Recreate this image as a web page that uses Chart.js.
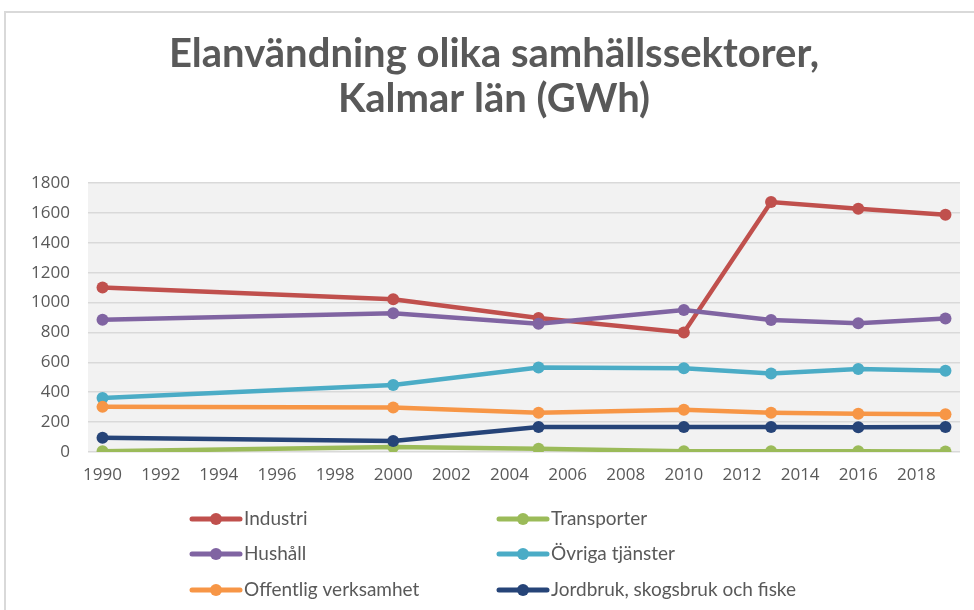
<!DOCTYPE html>
<html>
<head>
<meta charset="utf-8">
<script src="https://cdn.jsdelivr.net/npm/chart.js@4/dist/chart.umd.min.js"></script>
<style>
  html, body { margin: 0; padding: 0; background: #ffffff; }
  #wrap { position: relative; width: 974px; height: 610px; overflow: hidden; }
  canvas { position: absolute; left: 0; top: 0; }
</style>
</head>
<body>
<div id="wrap"><canvas id="c" width="974" height="610"></canvas></div>
<script>
// ---- Data ----
const years = [1990, 2000, 2005, 2010, 2013, 2016, 2019];
const industri = [1100, 1022, 897, 800, 1673, 1628, 1588];
const transporter = [5, 33, 22, 5, 5, 5, 4];
const hushall = [885, 928, 858, 950, 883, 862, 893];
const ovrigaTjanster = [362, 448, 565, 560, 525, 555, 543];
const offentlig = [302, 298, 263, 282, 263, 256, 252];
const jordbruk = [95, 73, 167, 168, 168, 165, 168];
const seriesNames = ["Industri", "Transporter", "Hushåll", "Övriga tjänster", "Offentlig verksamhet", "Jordbruk, skogsbruk och fiske"];
const seriesColors = ["#C0504D", "#9BBB59", "#8064A2", "#4BACC6", "#F79646", "#264478"];
const xTickYears = [1990, 1992, 1994, 1996, 1998, 2000, 2002, 2004, 2006, 2008, 2010, 2012, 2014, 2016, 2018];
const yTickValues = [0, 200, 400, 600, 800, 1000, 1200, 1400, 1600, 1800];
const titleLines = ["Elanvändning olika samhällssektorer,", "Kalmar län (GWh)"];

const seriesValues = [industri, transporter, hushall, ovrigaTjanster, offentlig, jordbruk];

const datasets = seriesValues.map((vals, i) => ({
  label: seriesNames[i],
  data: years.map((y, j) => ({ x: y, y: vals[j] })),
  borderColor: seriesColors[i],
  backgroundColor: seriesColors[i],
  pointBackgroundColor: seriesColors[i],
  pointBorderColor: seriesColors[i],
  borderWidth: 4.5,
  pointRadius: 6,
  pointBorderWidth: 0,
  tension: 0,
  order: seriesValues.length - i
}));

const TEXT = "#595959";

const framePlugin = {
  id: 'frame',
  beforeDraw(chart) {
    const ctx = chart.ctx;
    const a = chart.chartArea;
    ctx.save();
    ctx.strokeStyle = "#D9D9D9";
    ctx.lineWidth = 2;
    ctx.strokeRect(5, 12, 1100, 800);
    ctx.fillStyle = "#F2F2F2";
    ctx.fillRect(a.left, a.top, a.right - a.left, a.bottom - a.top);
    ctx.restore();
  }
};

const legendPlugin = {
  id: 'gridLegend',
  afterDraw(chart) {
    const ctx = chart.ctx;
    const colX = [190, 497];
    const rowY = [519, 554, 590];
    ctx.save();
    chart.data.datasets.forEach((ds, i) => {
      const x0 = colX[i % 2];
      const y = rowY[Math.floor(i / 2)];
      ctx.strokeStyle = ds.borderColor;
      ctx.lineWidth = 5;
      ctx.lineCap = 'round';
      ctx.beginPath();
      ctx.moveTo(x0 + 2, y);
      ctx.lineTo(x0 + 50, y);
      ctx.stroke();
      ctx.fillStyle = ds.borderColor;
      ctx.beginPath();
      ctx.arc(x0 + 26, y, 6, 0, Math.PI * 2);
      ctx.fill();
      ctx.fillStyle = TEXT;
      ctx.font = "19px Lato";
      ctx.textBaseline = 'middle';
      ctx.textAlign = 'left';
      ctx.fillText(ds.label, x0 + 54, y);
    });
    ctx.restore();
  }
};

new Chart(document.getElementById('c'), {
  type: 'line',
  data: { datasets },
  plugins: [framePlugin, legendPlugin],
  options: {
    responsive: false,
    animation: false,
    devicePixelRatio: 1,
    layout: { padding: { left: 28, right: 14, top: 0, bottom: 0 } },
    plugins: {
      legend: { display: false },
      tooltip: { enabled: false },
      title: {
        display: true,
        text: titleLines,
        color: TEXT,
        font: { family: 'Lato', size: 40, weight: 'bold', lineHeight: 1.125 },
        padding: { top: 32, bottom: 61 }
      }
    },
    scales: {
      x: {
        type: 'linear',
        min: 1989.5,
        max: 2019.5,
        afterBuildTicks(scale) { scale.ticks = xTickYears.map(v => ({ value: v })); },
        afterFit(scale) { scale.height = 158; },
        grid: { display: false, drawTicks: false },
        border: { display: false },
        ticks: {
          color: TEXT,
          font: { family: 'Open Sans', size: 17 },
          padding: 13,
          maxRotation: 0,
          autoSkip: false,
          callback: v => String(v)
        }
      },
      y: {
        min: 0,
        max: 1800,
        afterBuildTicks(scale) { scale.ticks = yTickValues.map(v => ({ value: v })); },
        afterFit(scale) { scale.width = 60; },
        grid: { color: "#D9D9D9", lineWidth: 1.5, drawTicks: false },
        border: { display: false },
        ticks: {
          color: TEXT,
          font: { family: 'Open Sans', size: 17 },
          padding: 18,
          callback: v => String(v)
        }
      }
    }
  }
});
</script>
</body>
</html>
